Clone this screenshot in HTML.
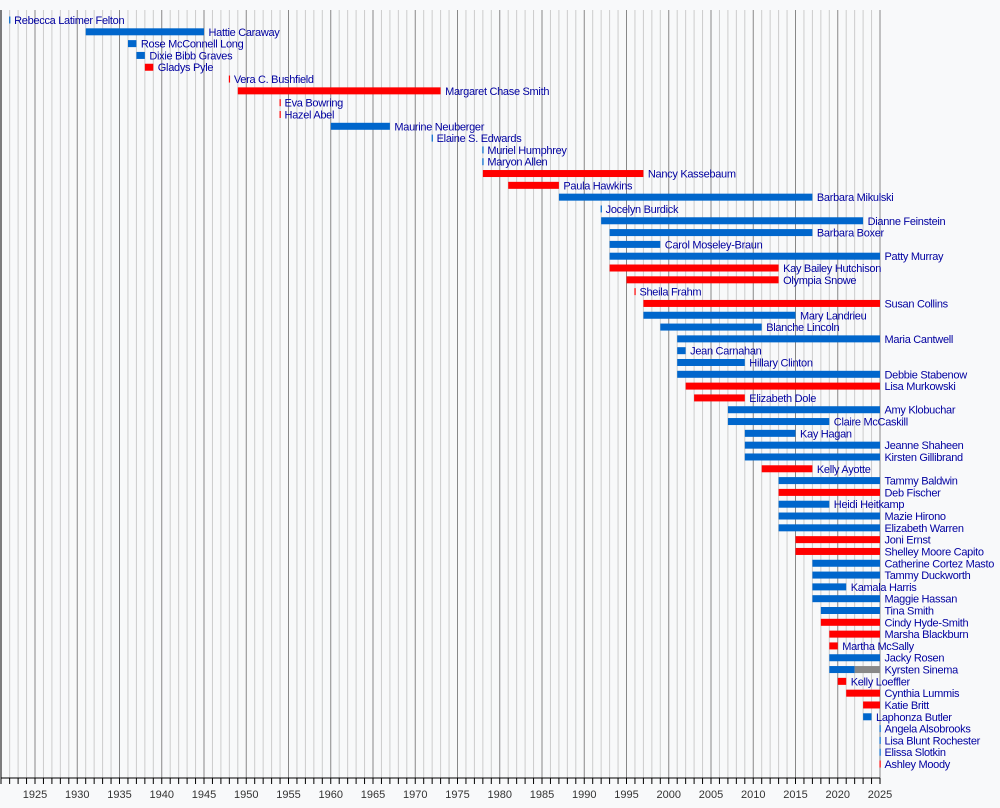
<!DOCTYPE html>
<html><head><meta charset="utf-8"><style>
html,body{margin:0;padding:0;background:#f8f9fa;}
svg{display:block}
text{font-family:"Liberation Sans",sans-serif;}
</style></head><body>
<svg id="s" width="1000" height="808" xmlns="http://www.w3.org/2000/svg"></svg>
<script>
const B='#0066cc',R='#ff0000',G='#888888';
const d=[
["Rebecca Latimer Felton",1922,1922,B],["Hattie Caraway",1931,1945,B],["Rose McConnell Long",1936,1937,B],["Dixie Bibb Graves",1937,1938,B],["Gladys Pyle",1938,1939,R],["Vera C. Bushfield",1948,1948,R],["Margaret Chase Smith",1949,1973,R],["Eva Bowring",1954,1954,R],["Hazel Abel",1954,1954,R],["Maurine Neuberger",1960,1967,B],["Elaine S. Edwards",1972,1972,B],["Muriel Humphrey",1978,1978,B],["Maryon Allen",1978,1978,B],["Nancy Kassebaum",1978,1997,R],["Paula Hawkins",1981,1987,R],["Barbara Mikulski",1987,2017,B],["Jocelyn Burdick",1992,1992,B],["Dianne Feinstein",1992,2023,B],["Barbara Boxer",1993,2017,B],["Carol Moseley-Braun",1993,1999,B],["Patty Murray",1993,2025,B],["Kay Bailey Hutchison",1993,2013,R],["Olympia Snowe",1995,2013,R],["Sheila Frahm",1996,1996,R],["Susan Collins",1997,2025,R],["Mary Landrieu",1997,2015,B],["Blanche Lincoln",1999,2011,B],["Maria Cantwell",2001,2025,B],["Jean Carnahan",2001,2002,B],["Hillary Clinton",2001,2009,B],["Debbie Stabenow",2001,2025,B],["Lisa Murkowski",2002,2025,R],["Elizabeth Dole",2003,2009,R],["Amy Klobuchar",2007,2025,B],["Claire McCaskill",2007,2019,B],["Kay Hagan",2009,2015,B],["Jeanne Shaheen",2009,2025,B],["Kirsten Gillibrand",2009,2025,B],["Kelly Ayotte",2011,2017,R],["Tammy Baldwin",2013,2025,B],["Deb Fischer",2013,2025,R],["Heidi Heitkamp",2013,2019,B],["Mazie Hirono",2013,2025,B],["Elizabeth Warren",2013,2025,B],["Joni Ernst",2015,2025,R],["Shelley Moore Capito",2015,2025,R],["Catherine Cortez Masto",2017,2025,B],["Tammy Duckworth",2017,2025,B],["Kamala Harris",2017,2021,B],["Maggie Hassan",2017,2025,B],["Tina Smith",2018,2025,B],["Cindy Hyde-Smith",2018,2025,R],["Marsha Blackburn",2019,2025,R],["Martha McSally",2019,2020,R],["Jacky Rosen",2019,2025,B],["Kyrsten Sinema",2019,2025,B],["Kelly Loeffler",2020,2021,R],["Cynthia Lummis",2021,2025,R],["Katie Britt",2023,2025,R],["Laphonza Butler",2023,2024,B],["Angela Alsobrooks",2025,2025,B],["Lisa Blunt Rochester",2025,2025,B],["Elissa Slotkin",2025,2025,B],["Ashley Moody",2025,2025,R]];
const X=y=>35+(y-1925)*8.45;
let h='';
for(let y=1922;y<=2025;y++){const x=X(y);const m=y%5==0;
h+=`<line x1="${x}" y1="10" x2="${x}" y2="778" stroke="${m?'#888':'#ccc'}" stroke-width="1"/>`;
h+=`<line x1="${x}" y1="778" x2="${x}" y2="784" stroke="#000" stroke-width="1"/>`;
if(m)h+=`<text x="${x}" y="798" font-size="11" fill="#333" text-anchor="middle">${y}</text>`;}
h+=`<line x1="1" y1="10" x2="1" y2="778" stroke="#000"/><line x1="1" y1="778" x2="${X(2025)}" y2="778" stroke="#000"/><line x1="1" y1="778" x2="1" y2="784" stroke="#000"/>`;
d.forEach((r,i)=>{const cy=20+i*11.81;let x1=X(r[1]),x2=X(r[2]);
if(r[1]==r[2]){h+=`<rect x="${x1-0.5}" y="${cy-3.5}" width="1.2" height="7" fill="${r[3]}"/>`;x2=x1;}
else if(r[0]=="Kyrsten Sinema"){h+=`<rect x="${x1}" y="${cy-3.5}" width="${X(2022)-x1}" height="7" fill="${B}"/><rect x="${X(2022)}" y="${cy-3.5}" width="${x2-X(2022)}" height="7" fill="${G}"/>`;}
else h+=`<rect x="${x1}" y="${cy-3.5}" width="${x2-x1}" height="7" fill="${r[3]}"/>`;
h+=`<text x="${x2+4.5}" y="${cy+4}" font-size="11" fill="#0000a0" letter-spacing="-0.3">${r[0]}</text>`;});
document.getElementById('s').innerHTML=h;
</script>
</body></html>
